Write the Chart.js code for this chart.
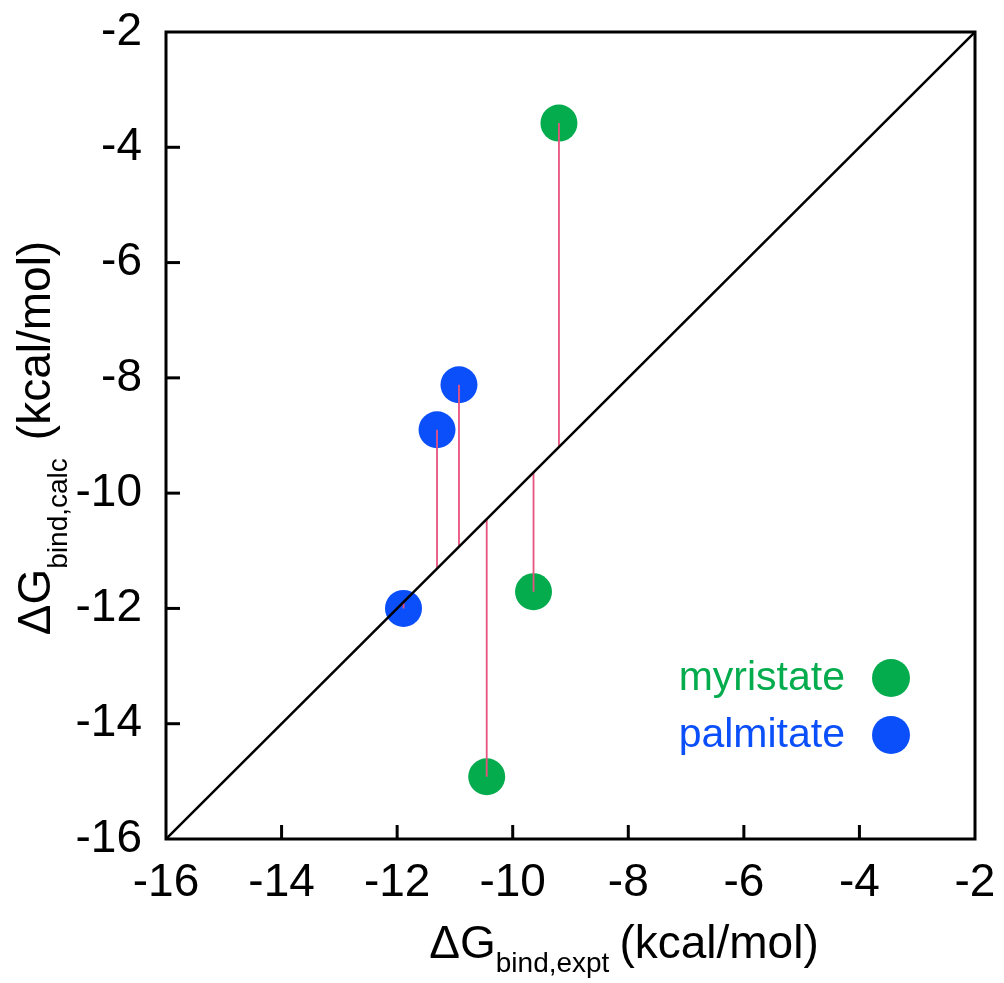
<!DOCTYPE html>
<html><head><meta charset="utf-8">
<script src="https://cdn.jsdelivr.net/npm/chart.js@4.4.0/dist/chart.umd.min.js"></script>
<style>html,body{margin:0;padding:0;background:#fff;overflow:hidden;}</style>
</head><body>
<canvas id="c" width="1004" height="983"></canvas>
<script>
// ---- data (kcal/mol) ----
const myristateX = [-9.20, -9.64, -10.45];
const myristateY = [-3.58, -11.71, -14.92];
const palmitateX = [-10.93, -11.31, -11.89];
const palmitateY = [-8.12, -8.90, -12.00];
const axisMin = -16;
const axisMax = -2;
const tickStep = 2;
const seriesNames = ['myristate', 'palmitate'];
const xTitleMain = 'ΔG', xTitleSub = 'bind,expt', xTitleUnit = '(kcal/mol)';
const yTitleMain = 'ΔG', yTitleSub = 'bind,calc', yTitleUnit = '(kcal/mol)';

const GREEN = '#05AC4E', BLUE = '#0B4FFB', PINK = '#E8527F';
const FONT = "'Liberation Sans', Arial, sans-serif";
Chart.defaults.font.family = FONT;

const toPts = (xs, ys) => xs.map((x, i) => ({x: x, y: ys[i]}));

const residualSets = [];
[[myristateX, myristateY], [palmitateX, palmitateY]].forEach(([xs, ys]) => {
  xs.forEach((x, i) => {
    residualSets.push({
      type: 'line', data: [{x: x, y: ys[i]}, {x: x, y: x}],
      borderColor: PINK, borderWidth: 1.8, pointRadius: 0, order: 1, fill: false
    });
  });
});

const framePlugin = {
  id: 'frame',
  afterDraw(chart) {
    const ctx = chart.ctx, a = chart.chartArea;
    const xs = chart.scales.x, ys = chart.scales.y;
    ctx.save();
    ctx.strokeStyle = '#000';
    ctx.lineWidth = 3;
    ctx.strokeRect(a.left, a.top, a.right - a.left, a.bottom - a.top);
    // inward ticks
    for (let v = axisMin + tickStep; v < axisMax; v += tickStep) {
      const px = xs.getPixelForValue(v);
      ctx.beginPath(); ctx.moveTo(px, a.bottom); ctx.lineTo(px, a.bottom - 14); ctx.stroke();
      const py = ys.getPixelForValue(v);
      ctx.beginPath(); ctx.moveTo(a.left, py); ctx.lineTo(a.left + 14, py); ctx.stroke();
    }
    // legend
    const lg = [[seriesNames[0], GREEN, 690, 678], [seriesNames[1], BLUE, 747, 735]];
    ctx.font = '41px ' + FONT;
    ctx.textAlign = 'right'; ctx.textBaseline = 'alphabetic';
    lg.forEach(([t, c, by, cy]) => {
      ctx.fillStyle = c;
      ctx.fillText(t, 845, by);
      ctx.beginPath(); ctx.arc(891, cy, 19, 0, Math.PI * 2); ctx.fill();
    });
    // titles
    ctx.fillStyle = '#000';
    ctx.textAlign = 'left';
    const drawTitle = (main, sub, unit, gap, subDrop) => {
      ctx.font = '46px ' + FONT; const w1 = ctx.measureText(main).width;
      ctx.font = '28px ' + FONT; const w2 = ctx.measureText(sub).width;
      ctx.font = '46px ' + FONT; const w3 = ctx.measureText(unit).width;
      const total = w1 + w2 + gap + w3;
      let x = -total / 2;
      ctx.font = '46px ' + FONT; ctx.fillText(main, x, 0); x += w1;
      ctx.font = '28px ' + FONT; ctx.fillText(sub, x, subDrop); x += w2 + gap;
      ctx.font = '46px ' + FONT; ctx.fillText(unit, x, 0);
    };
    ctx.save();
    ctx.translate(624, 958);
    drawTitle(xTitleMain, xTitleSub, xTitleUnit, 10, 14);
    ctx.restore();
    ctx.save();
    ctx.translate(50, 438);
    ctx.rotate(-Math.PI / 2);
    drawTitle(yTitleMain, yTitleSub, yTitleUnit, 18, 17);
    ctx.restore();
    ctx.restore();
  }
};

const zeroPad = s => { s.paddingLeft = 0; s.paddingRight = 0; s.paddingTop = 0; s.paddingBottom = 0; };

new Chart(document.getElementById('c'), {
  type: 'scatter',
  data: {
    datasets: [
      {type: 'line', data: [{x: axisMin, y: axisMin}, {x: axisMax, y: axisMax}],
       borderColor: '#000', borderWidth: 2.5, pointRadius: 0, order: 0, fill: false},
      ...residualSets,
      {label: seriesNames[0], data: toPts(myristateX, myristateY), backgroundColor: GREEN,
       borderWidth: 0, pointRadius: 18.5, order: 2},
      {label: seriesNames[1], data: toPts(palmitateX, palmitateY), backgroundColor: BLUE,
       borderWidth: 0, pointRadius: 18.5, order: 2}
    ]
  },
  options: {
    responsive: false, animation: false,
    layout: {padding: {top: 32, right: 29, left: 0, bottom: 0}},
    plugins: {legend: {display: false}, tooltip: {enabled: false}},
    scales: {
      x: {type: 'linear', position: 'bottom', min: axisMin, max: axisMax,
          grid: {display: false}, border: {display: false},
          ticks: {stepSize: tickStep, color: '#000', font: {size: 46}, padding: 9, maxRotation: 0, autoSkip: false},
          afterFit: s => { s.height = 144; zeroPad(s); }},
      y: {type: 'linear', min: axisMin, max: axisMax,
          grid: {display: false}, border: {display: false},
          ticks: {stepSize: tickStep, color: '#000', font: {size: 46}, padding: 16, autoSkip: false},
          afterFit: s => { s.width = 166; zeroPad(s); }}
    }
  },
  plugins: [framePlugin]
});
</script>
</body></html>
